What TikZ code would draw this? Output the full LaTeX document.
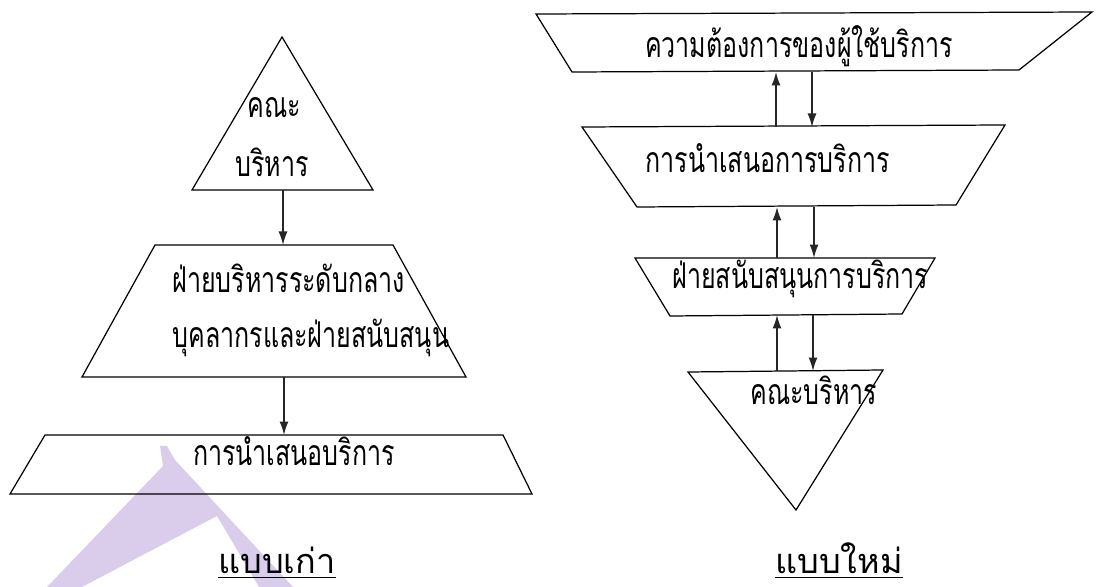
\documentclass[tikz,border=0pt]{standalone}
\usepackage{fontspec}
\newfontfamily\thaifont[Script=Thai]{Loma}
\usetikzlibrary{arrows.meta,positioning}
\definecolor{wmark}{RGB}{217,205,235}
\newcommand\tht[1]{\scalebox{0.95}[1.35]{#1}}

\begin{document}
\begin{tikzpicture}[x=0.02cm, y=-0.02cm,
  box/.style={draw, line width=0.7pt, line join=miter},
  lab/.style={font=\thaifont\fontsize{15}{18}\selectfont, inner sep=0pt, anchor=base west},
  ttl/.style={font=\thaifont\fontsize{15}{18}\selectfont, inner sep=0pt, anchor=base},
  uline/.style={line width=0.6pt},
  arr/.style={draw=black!85, line width=0.85pt, -{Latex[length=2.7mm, width=1.8mm]}}
]
\useasboundingbox (0,0) rectangle (1099,587);
% watermark
\fill[wmark] (160,446) -- (167,446) -- (175,460) -- (293,587) -- (259,587)
  -- (217,516) -- (82,587) -- (47,587) -- (163,466) -- cycle;

% ---- old model (left)
\draw[box] (282,37) -- (373,190) -- (192,190) -- cycle;
\draw[box] (155,245) -- (393,245) -- (466,377) -- (82,377) -- cycle;
\draw[box] (45,435) -- (503,435) -- (532,494) -- (10,494) -- cycle;
\node[lab] (oldA1) at (247,118) {\tht{คณะ}};
\node[lab] (oldA2) at (235,177) {\tht{บริหาร}};
\node[lab] (oldB1) at (172,293) {\tht{ฝ่ายบริหารระดับกลาง}};
\node[lab] (oldB2) at (172,348) {\tht{บุคลากรและฝ่ายสนับสนุน}};
\node[ttl] (oldC) at (294,465) {\tht{การนำเสนอบริการ}};
\node[ttl] (oldT) at (277,573) {\scalebox{1.3}{แบบเก่า}};
\draw[uline] ([yshift=-0.09cm]oldT.base west) -- ([yshift=-0.09cm]oldT.base east);
\coordinate (o1) at (283,190);
\coordinate (o2) at (283,245);
\coordinate (o3) at (284,377);
\coordinate (o4) at (284,435);
\draw[arr] (o1) -- (o2);
\draw[arr] (o3) -- (o4);

% ---- new model (right)
\draw[box] (536,14) -- (1092,12) -- (1019,70) -- (572,72) -- cycle;
\draw[box] (582,127) -- (1005,125) -- (956,205) -- (637,207) -- cycle;
\draw[box] (635,258) -- (935,258) -- (902,314) -- (670,316) -- cycle;
\draw[box] (688,372) -- (883,370) -- (796,510) -- cycle;
\node[ttl] (newA) at (799,58) {\tht{ความต้องการของผู้ใช้บริการ}};
\node[lab] (newB) at (645,173) {\tht{การนำเสนอการบริการ}};
\node[lab] (newC) at (672,289) {\tht{ฝ่ายสนับสนุนการบริการ}};
\node[lab] (newD) at (750,405) {\tht{คณะบริหาร}};
\node[ttl] (newT) at (839,573) {\scalebox{1.3}{แบบใหม่}};
\draw[uline] ([yshift=-0.09cm]newT.base west) -- ([yshift=-0.09cm]newT.base east);
\foreach \u/\d/\ya/\yb in {776/812/72/127, 777/814/207/258, 777/813/315/371} {
  \coordinate (up-top) at (\u,\ya);
  \coordinate (up-bot) at (\u,\yb);
  \coordinate (dn-top) at (\d,\ya);
  \coordinate (dn-bot) at (\d,\yb);
  \draw[arr] (up-bot) -- (up-top);
  \draw[arr] (dn-top) -- (dn-bot);
}
\end{tikzpicture}
\end{document}
